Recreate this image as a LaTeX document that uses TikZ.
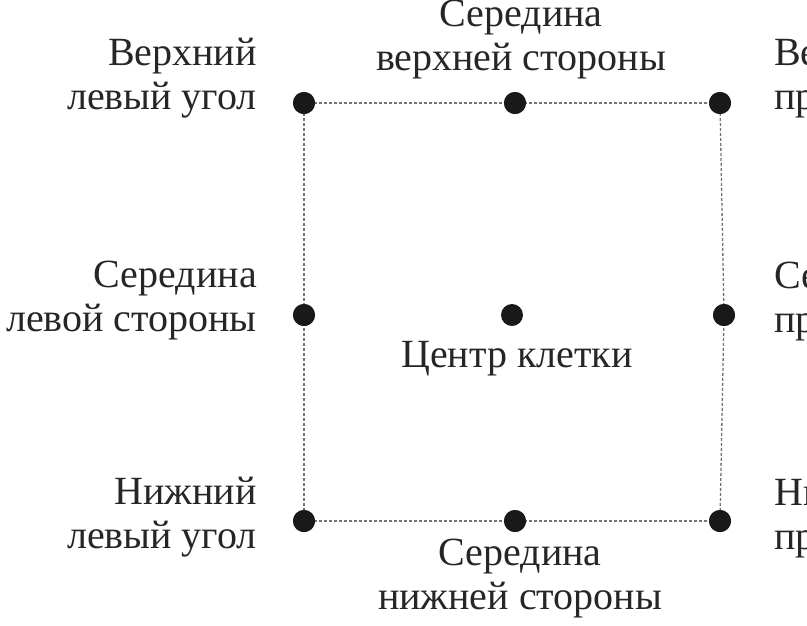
\documentclass[tikz,border=0pt]{standalone}
\usepackage{fontspec}
\setmainfont{Liberation Serif}
\begin{document}
\begin{tikzpicture}[x=1pt,y=-1pt,
  pt/.style={circle,fill=black!90,inner sep=0pt,minimum size=22pt},
  lbl/.style={inner sep=0pt,font=\fontsize{40}{44}\selectfont,text=black!85},
  edge/.style={draw=black!55,line width=1.3pt,dash pattern=on 3pt off 2pt}]
\useasboundingbox (0,0) rectangle (807,625);
% points
\node[pt] (tl) at (304,103) {};
\node[pt] (tm) at (515,103) {};
\node[pt] (tr) at (720,103) {};
\node[pt] (ml) at (304,315) {};
\node[pt] (c)  at (512,315) {};
\node[pt] (mr) at (724,315) {};
\node[pt] (bl) at (304,521) {};
\node[pt] (bm) at (515,521) {};
\node[pt] (br) at (720,521) {};
% dotted sides
\draw[edge] (tl.center) -- (tm.center) -- (tr.center);
\draw[edge] (bl.center) -- (bm.center) -- (br.center);
\draw[edge] (tl.center) -- (ml.center) -- (bl.center);
\draw[edge] (tr.center) -- (mr.center) -- (br.center);
\foreach \n in {tl,tm,tr,ml,mr,bl,bm,br} \node[pt] at (\n) {};
% labels (anchor base = baseline of the last line)
\node[lbl,align=right,anchor=base east] (ltl) at (257,109) {Верхний\\левый угол};
\node[lbl,align=right,anchor=base east] (lml) at (257,331) {Середина\\левой стороны};
\node[lbl,align=right,anchor=base east] (lbl) at (257,548) {Нижний\\левый угол};
\node[lbl,align=left,anchor=base west] (ltr) at (774,109) {Верхний\\правый угол};
\node[lbl,align=left,anchor=base west] (lmr) at (774,332) {Середина\\правой стороны};
\node[lbl,align=left,anchor=base west] (lbr) at (774,549) {Нижний\\правый угол};
\node[lbl,align=center,anchor=base] (ltm) at (521,70) {Середина\\верхней стороны};
\node[lbl,align=center,anchor=base] (lbm) at (520,609) {Середина\\нижней стороны};
\node[lbl,anchor=base] (lc) at (517,367) {Центр клетки};
\end{tikzpicture}
\end{document}
